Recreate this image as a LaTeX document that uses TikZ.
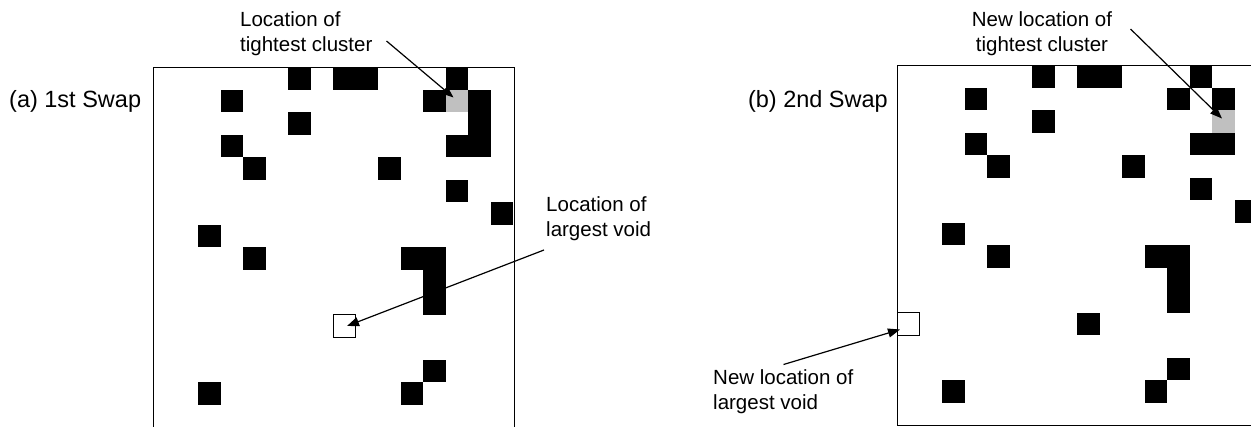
\documentclass[tikz,border=0pt]{standalone}
\usepackage{fontspec}
\setmainfont{Liberation Sans}
\usetikzlibrary{arrows.meta}

% side of one grid cell
\newcommand\cs{22.5}
% fill the listed col/row cells of a grid whose top left corner is (#1,#2)
\newcommand\fillcells[4]{%
  \foreach \c/\r in {#4}
    \fill[#3] ({#1+\c*\cs},{#2+\r*\cs}) rectangle ++(\cs,\cs);}

\tikzset{
  lbl/.style={inner sep=0pt, font=\fontsize{20.5}{25}\selectfont},
  title/.style={inner sep=0pt, font=\fontsize{23.5}{28}\selectfont},
  frame/.style={draw=black, line width=1.5pt},
  voidcell/.style={draw=black, line width=1.1pt, fill=white},
  pointer/.style={draw=black, line width=1.2pt,
    -{Triangle[length=12pt,width=9pt]}},
}
\definecolor{clustergray}{RGB}{192,192,192}

\begin{document}
\begin{tikzpicture}[x=1pt,y=-1pt]
\useasboundingbox (0,0) rectangle (1251,426);
\clip (0,0) rectangle (1251,426);
\fill[white] (0,0) rectangle (1251,426);

% ---------- (a) first swap ----------
\fillcells{153.3}{67.3}{black}{6/0,8/0,9/0,13/0,3/1,12/1,14/1,6/2,14/2,3/3,13/3,14/3,4/4,10/4,13/5,15/6,2/7,4/8,11/8,12/8,12/9,12/10,12/13,2/14,11/14}
\fillcells{153.3}{67.3}{clustergray}{13/1}
\draw[voidcell] ({153.3+8*\cs},{67.3+11*\cs}) rectangle ++(\cs,\cs);
\draw[frame] (153.3,67.3) rectangle (514.3,428.3);

% multi-line labels: the base anchor sits on the last line
\node[title, anchor=base west] (ta) at (9,107) {(a) 1st Swap};
\node[lbl, anchor=base west, align=left] (ca) at (240,51.5) {Location of\\tightest cluster};
\node[lbl, anchor=base west, align=left] (va) at (546,236.5) {Location of\\largest void};

\coordinate (ca0) at (386.5,41);
\coordinate (ca1) at (453.5,97.5);
\coordinate (va0) at (544,250);
\coordinate (va1) at (347,326);
\draw[pointer] (ca0) -- (ca1);
\draw[pointer] (va0) -- (va1);

% ---------- (b) second swap ----------
\fillcells{897.3}{65.3}{black}{6/0,8/0,9/0,13/0,3/1,12/1,14/1,6/2,3/3,13/3,14/3,4/4,10/4,13/5,15/6,2/7,4/8,11/8,12/8,12/9,12/10,8/11,12/13,2/14,11/14}
\fillcells{897.3}{65.3}{clustergray}{14/2}
\draw[voidcell] ({897.3+0*\cs},{65.3+11*\cs}) rectangle ++(\cs,\cs);
\draw[frame] (897.3,65.3) rectangle (1259.3,425.3);

\node[title, anchor=base east] (tb) at (888,107) {(b) 2nd Swap};
\node[lbl, anchor=base, align=center] (cb) at (1042,51) {New location of\\tightest cluster};
\node[lbl, anchor=base west, align=left] (vb) at (713,409) {New location of\\largest void};

\coordinate (cb0) at (1130.5,29);
\coordinate (cb1) at (1222,118.5);
\coordinate (vb0) at (783.5,364.5);
\coordinate (vb1) at (900,329.5);
\draw[pointer] (cb0) -- (cb1);
\draw[pointer] (vb0) -- (vb1);
\end{tikzpicture}
\end{document}
